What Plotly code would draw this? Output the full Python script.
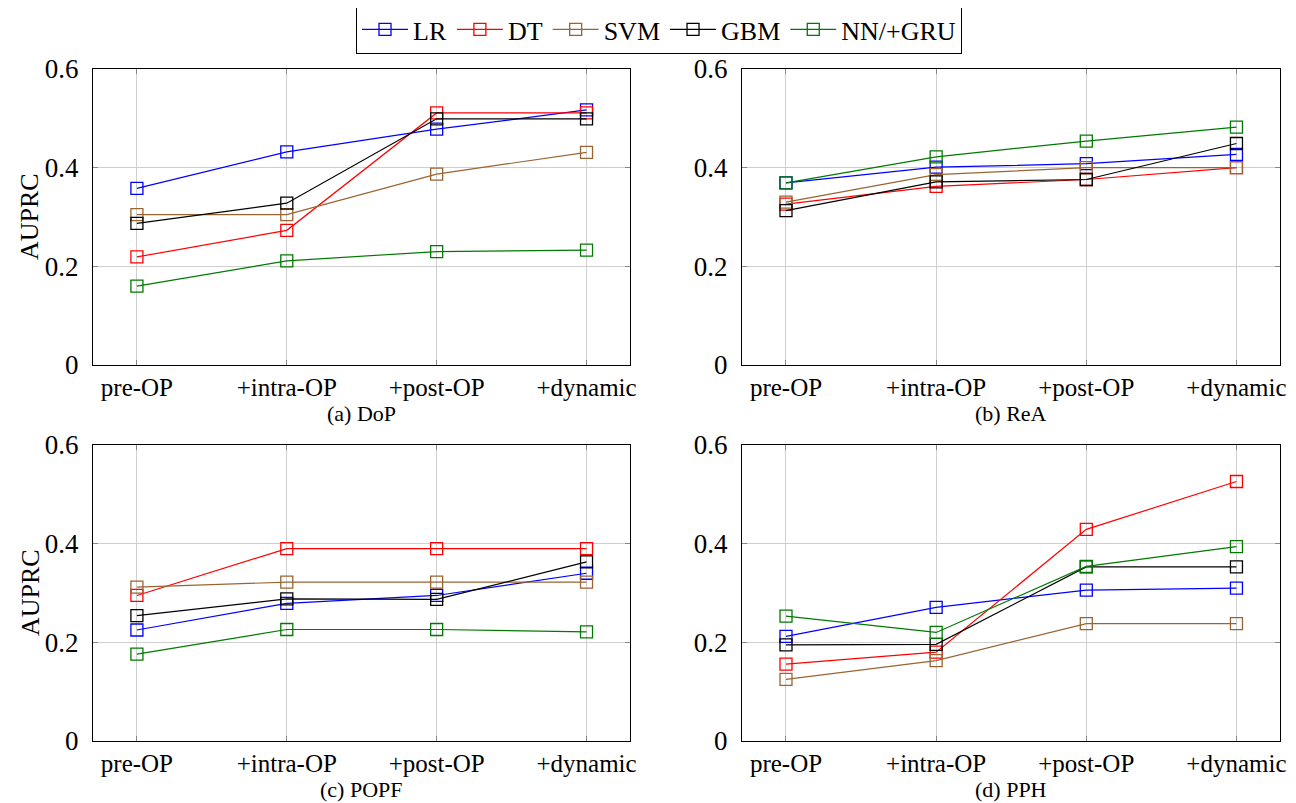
import plotly.graph_objects as go

stages = ["pre-OP", "+intra-OP", "+post-OP", "+dynamic"]
models = ["LR", "DT", "SVM", "GBM", "NN/+GRU"]
colors = ["#0000ff", "#ff0000", "#9a6432", "#000000", "#007a00"]

# AUPRC values per panel, per model
dop = {
    "LR":      [0.358, 0.432, 0.478, 0.517],
    "DT":      [0.219, 0.273, 0.511, 0.511],
    "SVM":     [0.305, 0.305, 0.387, 0.431],
    "GBM":     [0.287, 0.328, 0.499, 0.499],
    "NN/+GRU": [0.160, 0.211, 0.230, 0.233],
}
rea = {
    "LR":      [0.369, 0.401, 0.408, 0.427],
    "DT":      [0.326, 0.362, 0.376, 0.400],
    "SVM":     [0.330, 0.386, 0.400, 0.400],
    "GBM":     [0.313, 0.371, 0.376, 0.449],
    "NN/+GRU": [0.369, 0.422, 0.454, 0.482],
}
popf = {
    "LR":      [0.225, 0.279, 0.295, 0.340],
    "DT":      [0.295, 0.390, 0.390, 0.390],
    "SVM":     [0.312, 0.322, 0.322, 0.322],
    "GBM":     [0.254, 0.288, 0.287, 0.363],
    "NN/+GRU": [0.176, 0.226, 0.226, 0.221],
}
pph = {
    "LR":      [0.212, 0.271, 0.306, 0.310],
    "DT":      [0.156, 0.180, 0.429, 0.526],
    "SVM":     [0.125, 0.163, 0.238, 0.238],
    "GBM":     [0.195, 0.196, 0.353, 0.353],
    "NN/+GRU": [0.253, 0.220, 0.354, 0.394],
}
panels = [dop, rea, popf, pph]
captions = ["(a) DoP", "(b) ReA", "(c) POPF", "(d) PPH"]
y_ticks = [0, 0.2, 0.4, 0.6]
y_ticktext = ["0", "0.2", "0.4", "0.6"]

# the page body has an 8px margin: the figure starts at (8, 8)
OFF = 8
W, H = 1296 - OFF, 803 - OFF
FONT = "Liberation Serif, Times New Roman, serif"


def px(xp):
    return (xp - OFF) / W


def py(yp):
    return 1 - (yp - OFF) / H


# pixel boxes in the window (left, right, top, bottom)
boxes = [(93, 630, 69, 365), (742, 1280, 69, 365),
         (93, 630, 445, 741), (742, 1280, 445, 741)]

fig = go.Figure()
for i, (data, box) in enumerate(zip(panels, boxes)):
    ax = "" if i == 0 else str(i + 1)
    for m, c in zip(models, colors):
        fig.add_trace(go.Scatter(
            x=stages, y=data[m], mode="lines+markers", name=m,
            line=dict(color=c, width=1.2),
            marker=dict(symbol="square-open", size=12, color=c, line=dict(width=1.3)),
            xaxis="x" + ax, yaxis="y" + ax, showlegend=(i == 0),
            cliponaxis=False,
        ))
    l, r, t, b = box
    axis_common = dict(
        showline=True, linecolor="black", linewidth=1.3, mirror="allticks",
        showgrid=True, gridcolor="#cfcfcf", gridwidth=1,
        ticks="inside", ticklen=5, tickcolor="#888888", tickwidth=1,
        zeroline=False, automargin=False,
    )
    fig.update_layout(**{
        "xaxis" + ax: dict(domain=[px(l), px(r)], anchor="y" + ax,
                           range=[-0.293, 3.29], type="category",
                           categoryorder="array", categoryarray=stages,
                           tickfont=dict(family=FONT, size=25, color="black"),
                           **axis_common),
        "yaxis" + ax: dict(domain=[py(b), py(t)], anchor="x" + ax,
                           range=[0, 0.6], tickvals=y_ticks, ticktext=y_ticktext,
                           tickfont=dict(family=FONT, size=27, color="black"),
                           ticklabelstandoff=8,
                           **axis_common),
    })
    fig.add_annotation(x=px((l + r) / 2), y=py(b + 48), xref="paper", yref="paper",
                       xanchor="center", yanchor="middle",
                       text=captions[i], showarrow=False,
                       font=dict(family=FONT, size=22, color="black"))
    if i % 2 == 0:
        fig.add_annotation(x=px(30), y=py((t + b) / 2), xref="paper", yref="paper",
                           xanchor="center", yanchor="middle",
                           text="AUPRC", showarrow=False, textangle=-90,
                           font=dict(family=FONT, size=26, color="black"))

fig.update_layout(
    width=W, height=H, margin=dict(l=0, r=0, t=0, b=0, autoexpand=False),
    paper_bgcolor="white", plot_bgcolor="white",
    legend=dict(orientation="h", x=px(659), xanchor="center", y=py(5), yanchor="top",
                bordercolor="black", borderwidth=1,
                font=dict(family=FONT, size=26, color="black"),
                itemwidth=46, tracegroupgap=0),
)
fig.write_html("out.html")
